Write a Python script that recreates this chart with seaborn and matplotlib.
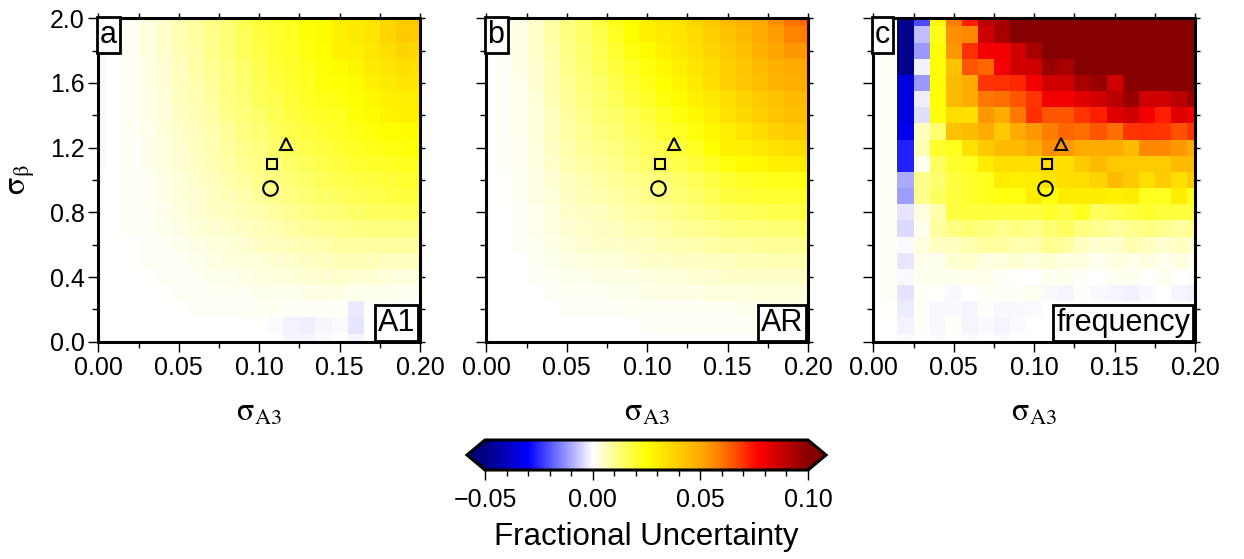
import numpy as np
import pandas as pd
import matplotlib
matplotlib.use("Agg")
import matplotlib.pyplot as plt
import seaborn as sns
from matplotlib.colors import LinearSegmentedColormap, Normalize
from matplotlib.cm import ScalarMappable
from matplotlib.ticker import MultipleLocator

# ---------------- data ----------------
sigma_a3 = [0.00, 0.01, 0.02, 0.03, 0.04, 0.05, 0.06, 0.07, 0.08, 0.09, 0.10,
            0.11, 0.12, 0.13, 0.14, 0.15, 0.16, 0.17, 0.18, 0.19, 0.20]
sigma_beta = [2.0, 1.9, 1.8, 1.7, 1.6, 1.5, 1.4, 1.3, 1.2, 1.1, 1.0,
              0.9, 0.8, 0.7, 0.6, 0.5, 0.4, 0.3, 0.2, 0.1, 0.0]

# fractional uncertainty in units of 1e-3, rows from sigma_beta = 2.0 down to 0.0
a1_milli = [
    [0, 0, 1.1, 2.8, 4.5, 6.8, 8.5, 11.6, 12.9, 17, 19.1, 20.5, 21.7, 23.8, 26, 29.5, 30, 32.5, 36.4, 40.2, 40.2],
    [-0.5, 0, 1.1, 2.8, 4.5, 6.8, 8.5, 10.3, 12.9, 15.7, 18.4, 19.8, 21.7, 23.8, 26, 29.5, 30.5, 32.5, 37.4, 40.2, 39.2],
    [-0.5, 0, 1.1, 2.8, 4.5, 6.3, 8, 10.3, 12.9, 15.7, 17.7, 19.8, 21.1, 23.3, 25, 28.9, 29.5, 31.5, 34.4, 37.4, 36.4],
    [-0.5, 0, 1.1, 2.25, 4, 5.7, 8, 9.7, 11.6, 14.3, 17, 19.1, 20.5, 22.5, 24.4, 26, 27.9, 30.5, 32.5, 34.4, 33.4],
    [-0.5, 0, 1.1, 2.25, 4, 5.7, 7.4, 9.1, 11.6, 13.6, 16.3, 18.4, 19.8, 21.7, 23.8, 24.4, 26, 28.9, 30.5, 32.5, 31.5],
    [-0.5, 0, 1.1, 2.25, 3.4, 5.7, 6.8, 8.5, 11, 12.9, 15.7, 17, 19.1, 21.1, 22.5, 23.3, 25, 26.9, 28.9, 29.5, 29.5],
    [-0.5, 0, 1.1, 2.25, 3.4, 5.1, 6.3, 8, 10.3, 12.2, 14.3, 16.3, 18.4, 19.8, 21.1, 21.7, 23.8, 26, 27.9, 28.9, 28.9],
    [-0.5, 0, 1.1, 1.7, 3.4, 4.5, 5.7, 7.4, 9.1, 11.6, 12.9, 15, 17, 18.4, 19.8, 21.1, 22.5, 23.8, 25, 25.5, 26],
    [-0.5, 0, 0.55, 1.7, 2.8, 4, 5.7, 6.8, 8.5, 10.3, 11.6, 13.6, 15.7, 17, 18.4, 19.8, 21.1, 22.5, 23.3, 23.8, 24.4],
    [-0.5, 0, 0.55, 1.7, 2.8, 4, 5.1, 6.3, 8, 9.7, 11, 12.2, 14.3, 15.7, 17, 18.4, 19.8, 20.5, 21.1, 21.7, 22.5],
    [0, 0, 0.55, 1.1, 2.25, 3.4, 4.5, 5.7, 7.4, 8.5, 10.3, 11.6, 12.9, 14.3, 15.7, 17, 17.7, 18.4, 19.1, 19.8, 20.5],
    [0, 0, 0.55, 1.1, 2.25, 3.4, 4, 5.1, 6.3, 7.4, 9.1, 10.3, 11.6, 12.9, 14.3, 15, 16.3, 17, 17.7, 18.4, 18.4],
    [0, 0, 0.55, 1.1, 1.7, 2.8, 4, 5.1, 5.7, 6.8, 7.4, 8.5, 9.7, 11, 12.2, 12.9, 14.3, 15, 15, 15.7, 15.7],
    [0, 0, 0.55, 1.1, 1.7, 2.25, 3.4, 4, 4.5, 5.1, 6.3, 6.8, 8, 9.1, 9.7, 10.3, 11, 11.6, 11.6, 11.6, 11.6],
    [0, 0, 0, 0.55, 1.1, 1.7, 2.25, 2.8, 3.4, 4, 5.1, 5.7, 6.3, 6.8, 7.4, 8.5, 8.5, 8.5, 8.5, 8.5, 8.5],
    [0, 0, 0, 0.55, 0.55, 1.1, 1.7, 2.25, 2.8, 3.4, 3.4, 4, 4.5, 5.1, 5.7, 6.3, 6.3, 6.3, 5.7, 5.7, 5.7],
    [0, 0, 0, 0, 0.55, 0.55, 1.1, 1.7, 1.7, 2.25, 2.8, 2.8, 3.4, 4, 4, 4.5, 4, 4, 3.4, 2.8, 2.8],
    [0, 0, 0, 0, 0, 0.55, 0.55, 1.1, 1.1, 1.1, 1.7, 1.7, 1.7, 2.25, 2.25, 2.25, 1.7, 1.7, 1.7, 1.1, 1.1],
    [0, 0, 0, 0, 0, 0, 0.55, 0.55, 0.55, 0.55, 1.1, 1.1, 0.55, 0.55, 0.55, 0.55, -2.5, 0, 0, 0, 0],
    [0, 0, 0, 0, 0, 0, 0, 0, 0, 0, 0, -0.5, -1.5, -2, -1, -0.5, -3, 0, 0, 0, 0],
    [0, 0, 0, 0, 0, 0, 0, 0, 0, 0, 0, 0, -1, -1, -0.5, 0, -1, 0, 0, 0, 0],
]

ar_milli = [
    [0, 0.55, 2.25, 4.5, 8, 11.6, 14.3, 18.4, 22.5, 26, 29.5, 31.5, 33.4, 37.4, 41.2, 45.1, 48, 50.5, 55, 60.7, 62.6],
    [0, 0.55, 2.25, 4.5, 8, 11.6, 14.3, 17, 21.1, 25, 28.9, 30.5, 32.5, 35.4, 39.2, 43.1, 46, 49.8, 52.5, 57.4, 58.7],
    [0, 0.55, 2.25, 4.5, 7.4, 11, 13.6, 16.3, 19.8, 23.3, 26, 28.9, 31.5, 34.4, 37.4, 40.2, 44.1, 48, 51.2, 53.7, 53.7],
    [0, 0.55, 2.25, 4, 6.8, 10.3, 12.9, 15.7, 18.4, 21.1, 23.8, 26.9, 29.5, 32.5, 35.4, 39.2, 42.1, 45.1, 48, 49.8, 50.5],
    [0, 0.55, 1.7, 4, 6.8, 9.7, 12.2, 14.3, 17, 19.8, 22.5, 25, 27.9, 30.5, 34.4, 38.2, 41.2, 44.1, 47, 49, 49],
    [0, 0.55, 1.7, 3.4, 6.3, 9.1, 11.6, 13.6, 15.7, 18.4, 20.5, 23.8, 26, 28.9, 31.5, 34.4, 37.4, 40.2, 43.1, 45.1, 45.1],
    [0, 0.55, 1.7, 3.4, 5.7, 8.5, 10.3, 12.9, 14.3, 16.3, 18.4, 21.1, 23.8, 26.9, 29.5, 33.4, 36.4, 39.2, 42.1, 44.1, 44.1],
    [0, 0.55, 1.7, 3.4, 5.7, 8, 9.7, 11.6, 12.9, 15, 17, 19.8, 21.1, 23.8, 26.9, 29.5, 32.5, 35.4, 38.2, 40.2, 40.2],
    [0, 0.55, 1.1, 2.8, 5.1, 7.4, 9.1, 10.3, 11.6, 13.6, 15.7, 17, 19.1, 21.1, 25, 28.9, 29.5, 31.5, 33.4, 34.4, 35.4],
    [0, 0.55, 1.1, 2.8, 4.5, 6.8, 8, 9.1, 10.3, 12.2, 14.3, 15.7, 17, 19.1, 21.1, 23.8, 26, 26.9, 28.9, 29.5, 30.5],
    [0, 0, 1.1, 2.25, 4, 5.7, 6.8, 8, 9.1, 10.3, 11.6, 12.9, 14.3, 15.7, 17.7, 19.8, 21.1, 21.7, 22.5, 22.5, 23.8],
    [0, 0, 1.1, 2.25, 3.4, 5.1, 6.3, 7.4, 8, 9.1, 10.3, 11.6, 12.9, 14.3, 16.3, 18.4, 19.1, 19.8, 19.8, 19.8, 21.1],
    [0, 0, 0.55, 1.7, 2.8, 4.5, 5.1, 5.7, 6.8, 8, 8.5, 9.7, 11, 12.2, 13.6, 15, 15.7, 16.3, 17, 17, 18.4],
    [0, 0, 0.55, 1.7, 2.8, 4, 4.5, 5.1, 5.7, 6.8, 7.4, 8, 9.1, 9.7, 10.3, 11.6, 12.2, 12.2, 12.9, 12.9, 14.3],
    [0, 0, 0.55, 1.1, 2.25, 3.4, 4, 4.5, 4.5, 5.1, 5.7, 6.3, 6.8, 7.4, 8, 8.5, 8.5, 9.1, 9.1, 9.1, 10.3],
    [0, 0, 0, 1.1, 1.7, 2.25, 2.8, 3.4, 3.4, 4, 4.5, 4.5, 5.1, 5.1, 5.7, 5.7, 6.3, 6.3, 6.8, 6.8, 7.4],
    [0, 0, 0, 0.55, 1.1, 1.7, 1.7, 2.25, 2.25, 2.25, 2.8, 3.4, 3.4, 4, 4, 4.5, 4.5, 4.5, 4.5, 4.5, 5.1],
    [0, 0, 0, 0, 0.55, 1.1, 1.1, 1.1, 1.7, 1.7, 2.25, 2.25, 2.25, 2.25, 2.8, 2.8, 2.8, 3.4, 3.4, 3.4, 3.4],
    [0, 0, 0, 0, 0, 0.55, 0.55, 0.55, 0.55, 1.1, 1.1, 1.1, 1.1, 1.1, 1.1, 1.1, 1.7, 1.7, 2.25, 2.25, 2.25],
    [0, 0, 0, 0, 0, 0, 0, 0, 0, 0, 0.55, 0.55, 0.55, 0.55, 0.55, 0.55, 0.55, 1.1, 1.1, 1.1, 1.1],
    [0, 0, 0, 0, 0, 0, 0, 0, 0, 0, 0, 0, 0, 0, 0, 0, 0, 0, 0, 0, 0.55],
]

freq_milli = [
    [0.55, 0.55, -48, -21, 26.9, 58.7, 72.7, 90, 93.5, 105, 105, 105, 105, 105, 105, 105, 105, 105, 105, 105, 105],
    [0.55, 0.55, -48, -7.5, 22.5, 55.6, 56.8, 86, 93.5, 105, 105, 105, 105, 105, 105, 105, 105, 105, 105, 105, 105],
    [0.55, 0.55, -48, -12, 25, 53.7, 70.3, 79, 79, 86, 93.5, 105, 105, 105, 105, 105, 105, 105, 105, 105, 105],
    [0.55, 0.55, -48, -1.5, 25, 43.1, 65, 62.6, 79, 86, 86, 96.5, 93.5, 105, 105, 105, 105, 105, 105, 105, 105],
    [0.55, 0.55, -35, -12, 25, 45.1, 49.8, 69.8, 70.3, 71.6, 79, 86, 86, 93.5, 96.5, 86, 105, 105, 105, 105, 105],
    [0.55, 0.55, -35, -2, 25, 45.1, 49.8, 59.7, 61.2, 65, 69.8, 79, 79, 82.5, 86, 90, 96.5, 86, 86, 90, 96.5],
    [0.55, 0.55, -35, -3.8, 23.8, 34.4, 34.4, 53.7, 49.8, 59.7, 70.3, 65, 65, 69.8, 72.7, 82.5, 86, 79, 72.7, 82.5, 79],
    [0.55, 0.55, -32.7, 5.7, 13.3, 43.1, 45.1, 49.8, 40.2, 49.8, 53.7, 58.7, 62.6, 61.2, 65, 61.2, 69.8, 70.3, 69.8, 65.5, 69.8],
    [0.55, 0.55, -26, 6.3, 20.2, 21.7, 33.4, 40.2, 45.1, 45.1, 49.8, 55.6, 53.7, 49.8, 49.8, 49.8, 45.1, 56.8, 56.8, 53.7, 49.8],
    [0.55, 0.55, -26, 1.35, 15, 20.2, 21.7, 30, 34.4, 34.4, 34.4, 34.4, 34.4, 40.2, 45.1, 40.2, 40.2, 40.2, 40.2, 45.1, 45.1],
    [0.55, 0.55, -10, 10.1, 13.3, 18.4, 20.2, 21.7, 30, 28.9, 30, 33.4, 34.4, 34.4, 38.2, 45.1, 40.2, 34.4, 40.2, 34.4, 40.2],
    [0.55, 0.55, -11.5, 10.1, 15, 18.4, 20.2, 21.7, 23.5, 23.5, 30, 23.5, 30, 30, 30, 28.9, 30, 21.7, 21.7, 30, 21.7],
    [0.55, 0.55, -3, 2.8, 7.2, 18.4, 18.4, 18.4, 18.4, 18.4, 18.4, 20.2, 18.4, 21.7, 15, 16.7, 18.4, 20.2, 18.4, 18.4, 18.4],
    [0.55, 0.55, -4.4, 1.35, 8.5, 11.6, 13.3, 11.6, 10.1, 11.6, 10.1, 13.3, 15, 11.6, 10.1, 8.5, 10.1, 11.6, 10.1, 8.5, 10.1],
    [0.55, 0.55, -0.5, 2.8, 5.7, 5.7, 7.2, 8.5, 8.5, 7.2, 7.2, 10.1, 8.5, 5.7, 4.3, 4.3, 7.2, 5.7, 4.3, 5.7, 4.3],
    [0.55, 0.55, -2.7, 2, 1.35, 4.3, 4.3, 2.8, 2.8, 4.3, 2.8, 4.3, 2.8, 2.8, 1.35, 2.8, 2, 2.8, 1.35, 2.8, 1.35],
    [0.55, 0.55, -0.7, 1.35, 1.35, 1.35, 2, 2, 0.9, 0, 0, 1.35, 1.35, 0.55, 0, 1.35, 1.35, 0, 1.35, 0, 0.55],
    [0.55, 0.55, -3.2, 0.9, 0.35, -0.9, 0, 0.9, 0.55, 0.55, 1.35, -0.7, -1.2, 0.55, -0.7, -1.2, -1.8, -0.7, 0, -1.2, -1.8],
    [0.55, 0.35, -2.2, 0.55, -0.9, -0.7, -1.2, 0.55, -0.9, -0.7, -0.5, 0, 0, 0, 0, 0, 0, 0, 0, 0, 0],
    [0.35, 0.2, -1.5, 0.55, -0.9, 0.55, -1.2, -0.7, -1.2, -0.5, 0, 0, 0, 0, 0, 0, 0, 0, 0, 0, 0],
    [0.35, 0.2, -0.5, 0, -0.5, 0, -0.5, 0, -0.5, 0, 0, 0, 0, 0, 0, 0, 0, 0, 0, 0, 0],
]

panel_letters = ["a", "b", "c"]
panel_names = ["A1", "AR", "frequency"]

marker_x = [0.1165, 0.108, 0.107]
marker_y = [1.223, 1.099, 0.949]
marker_shapes = ["^", "s", "o"]
marker_sizes = [9, 7, 10.5]

cbar_ticks = [-0.05, 0.00, 0.05, 0.10]
cbar_ticklabels = ["\u22120.05", "0.00", "0.05", "0.10"]

# ---------------- style ----------------
sns.set_theme(style="white")
plt.rcParams["font.family"] = ["Liberation Sans", "DejaVu Sans"]
plt.rcParams["mathtext.fontset"] = "stix"
plt.rcParams["axes.unicode_minus"] = True
for key in ("text.color", "axes.labelcolor", "xtick.color", "ytick.color",
            "axes.edgecolor"):
    plt.rcParams[key] = "black"

VMIN, VMAX = -0.05, 0.10
nodes = [(-0.05, (0.0, 0.0, 0.5)),
         (-0.03, (0.0, 0.0, 1.0)),
         (0.00, (1.0, 1.0, 1.0)),
         (0.01, (1.0, 1.0, 0.56)),
         (0.02, (1.0, 1.0, 0.19)),
         (0.025, (1.0, 1.0, 0.0)),
         (0.03, (1.0, 0.93, 0.0)),
         (0.04, (1.0, 0.80, 0.0)),
         (0.05, (1.0, 0.67, 0.0)),
         (0.06, (1.0, 0.47, 0.0)),
         (0.07, (1.0, 0.20, 0.0)),
         (0.077, (1.0, 0.0, 0.0)),
         (0.08, (0.93, 0.0, 0.0)),
         (0.09, (0.73, 0.0, 0.0)),
         (0.10, (0.53, 0.0, 0.0))]
cmap = LinearSegmentedColormap.from_list(
    "fu", [((v - VMIN) / (VMAX - VMIN), c) for v, c in nodes], N=1024)
cmap.set_under((0.0, 0.0, 0.5))
cmap.set_over((0.53, 0.0, 0.0))

W, H = 1244, 559
fig = plt.figure(figsize=(W / 100, H / 100), dpi=100)

panel_lefts = [98.3, 486.3, 873.3]
pw, ph, ptop = 321.7, 323.4, 18.3
FS = 18
frame_lw = 2.2

datasets = [np.array(a1_milli) / 1000.0,
            np.array(ar_milli) / 1000.0,
            np.array(freq_milli) / 1000.0]

for k in range(3):
    rect = [panel_lefts[k] / W, (H - ptop - ph) / H, pw / W, ph / H]
    ax = fig.add_axes(rect)
    df = pd.DataFrame(datasets[k], index=sigma_beta, columns=sigma_a3)
    sns.heatmap(df, ax=ax, cmap=cmap, vmin=VMIN, vmax=VMAX, cbar=False,
                xticklabels=False, yticklabels=False)
    # grid-line registration: node values sit on the frame edges
    ax.set_xlim(0.5, len(sigma_a3) - 0.5)
    ax.set_ylim(len(sigma_beta) - 0.5, 0.5)
    ax.set_xlabel("")
    ax.set_ylabel("")
    ax.set_xticks([])
    ax.set_yticks([])
    for s in ax.spines.values():
        s.set_visible(False)

    ov = fig.add_axes(rect, facecolor="none")
    ov.set_xlim(0, 0.2)
    ov.set_ylim(0, 2.0)
    for s in ov.spines.values():
        s.set_visible(True)
        s.set_linewidth(frame_lw)
        s.set_color("black")
    ov.xaxis.set_major_locator(MultipleLocator(0.05))
    ov.xaxis.set_minor_locator(MultipleLocator(0.025))
    ov.yaxis.set_major_locator(MultipleLocator(0.4))
    ov.yaxis.set_minor_locator(MultipleLocator(0.2))
    ov.xaxis.set_major_formatter(plt.FuncFormatter(lambda v, p: f"{v:.2f}"))
    ov.yaxis.set_major_formatter(plt.FuncFormatter(lambda v, p: f"{v:.1f}"))
    ov.tick_params(which="major", direction="out", length=7, width=1,
                   color="black", labelsize=FS, pad=3,
                   bottom=True, left=True, top=False, right=False,
                   labelleft=(k == 0))
    ov.tick_params(which="minor", direction="out", length=4, width=1,
                   color="black", bottom=True, left=True, top=False, right=False)

    secx = ov.secondary_xaxis("top")
    secx.xaxis.set_major_locator(MultipleLocator(0.025))
    secx.tick_params(direction="out", length=3.5, width=1, labeltop=False)
    secy = ov.secondary_yaxis("right")
    secy.yaxis.set_major_locator(MultipleLocator(0.2))
    secy.tick_params(direction="out", length=3.5, width=1, labelright=False)
    for sa in (secx, secy):
        for s in sa.spines.values():
            s.set_visible(False)

    ov.set_xlabel(r"$\mathrm{\sigma}_{\mathrm{A3}}$", fontsize=23, labelpad=13)
    if k == 0:
        ov.set_ylabel(r"$\mathrm{\sigma}_{\mathrm{\beta}}$", fontsize=23, labelpad=9)

    for mx, my, mk, ms in zip(marker_x, marker_y, marker_shapes, marker_sizes):
        ov.plot([mx], [my], marker=mk, ms=ms, mfc="none", mec="black",
                mew=1.5, ls="none", clip_on=False)

    ov.text(0.004, 0.995, panel_letters[k], transform=ov.transAxes,
            ha="left", va="top", fontsize=22,
            bbox=dict(boxstyle="square,pad=0.1", fc="white", ec="black", lw=2))
    ov.text(0.985, 0.012, panel_names[k], transform=ov.transAxes,
            ha="right", va="bottom", fontsize=22,
            bbox=dict(boxstyle="square,pad=0.1", fc="white", ec="black", lw=2))

# ---------------- colour bar ----------------
bar_len = 323.0
ext = 0.0557
cax = fig.add_axes([(485 - bar_len * ext) / W, (H - 470) / H,
                    bar_len * (1 + 2 * ext) / W, 30 / H])
sm = ScalarMappable(norm=Normalize(VMIN, VMAX), cmap=cmap)
cb = fig.colorbar(sm, cax=cax, orientation="horizontal", extend="both",
                  extendfrac=ext)
cb.outline.set_linewidth(frame_lw)
cb.outline.set_edgecolor("black")
cb.set_ticks(cbar_ticks, labels=cbar_ticklabels)
cb.ax.xaxis.set_minor_locator(MultipleLocator(0.01))
cax.tick_params(which="major", direction="out", length=7, width=1,
                labelsize=FS, pad=6, color="black")
cax.tick_params(which="minor", direction="out", length=4.5, width=1, color="black")
cb.set_label("Fractional Uncertainty", fontsize=22.5, labelpad=7)

fig.savefig("out.png", dpi=100)
